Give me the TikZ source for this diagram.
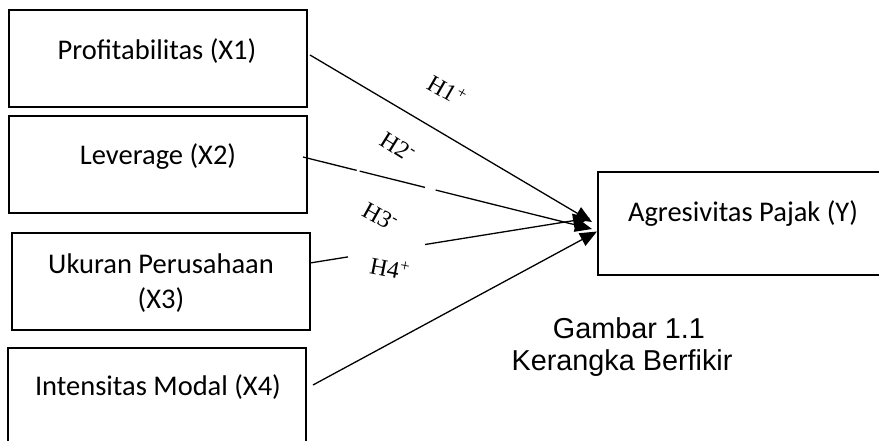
\documentclass[tikz,border=0pt]{standalone}
\usepackage{fontspec}
\setmainfont{Carlito}
\newfontfamily\capfont{Liberation Sans}
\newfontfamily\hfont{Liberation Serif}
\usetikzlibrary{arrows.meta}
\begin{document}
\begin{tikzpicture}[x=1pt,y=-1pt,
  box/.style={draw, line width=2.6pt, minimum width=298pt, minimum height=97pt, inner sep=0pt, outer sep=0pt},
  txt/.style={font=\fontsize{28.5}{34}\selectfont, anchor=base, inner sep=0pt},
  captxt/.style={font=\capfont\fontsize{28.8}{34}\selectfont, anchor=base, inner sep=0pt},
  hyp/.style={font=\hfont\fontsize{24}{28}\selectfont, inner sep=0pt},
  conn/.style={line width=1.3pt, -{Triangle[length=17pt,width=14pt]}}]
\useasboundingbox (0,0) rectangle (879,441);
\begin{scope}
\clip (0,0) rectangle (879,441);
% boxes
\node[box] (b1) at (158,58.5) {};
\node[box] (b2) at (158,164.5) {};
\node[box] (b3) at (161,281.5) {};
\node[box] (b4) at (157,396.5) {};
\node[box, minimum height=103pt] (y) at (747,223.5) {};
% texts
\node[txt] (t1) at (157,60) {Profitabilitas (X1)};
\node[txt] (t2) at (158,165) {Leverage (X2)};
\node[txt] (t3a) at (161,273) {Ukuran Perusahaan};
\node[txt] (t3b) at (161,308) {(X3)};
\node[txt] (t4) at (158,395) {Intensitas Modal (X4)};
\node[txt] (ty) at (743,222) {Agresivitas Pajak (Y)};
% connectors
\draw[conn] ([xshift=3pt,yshift=3.5pt]b1.east) -- ([xshift=-6pt,yshift=1.5pt]y.west);
\draw[conn, dash pattern=on 55.3pt off 3.1pt on 67.3pt off 11pt on 400pt off 0pt]
  ([xshift=-4pt,yshift=7.5pt]b2.east) -- ([xshift=-6pt,yshift=-5.5pt]y.west);
\draw[conn, dash pattern=on 38.5pt off 78pt on 400pt off 0pt]
  ([yshift=18.5pt]b3.east) -- ([xshift=-8pt,yshift=5.5pt]y.west);
\draw[conn] ([xshift=7pt,yshift=11.5pt]b4.east) -- ([xshift=-1pt,yshift=-8pt]y.west);
% hypothesis labels
\node[hyp, rotate=-30] (h1) at (447,90) {H1\textsuperscript{+}};
\node[hyp, rotate=-32] (h2) at (398,147) {H2\textsuperscript{-}};
\node[hyp, rotate=-29] (h3) at (380,217) {H3\textsuperscript{-}};
\node[hyp, rotate=-11] (h4) at (390,268) {H4\textsuperscript{+}};
% caption
\node[captxt] (c1) at (629,338) {Gambar 1.1};
\node[captxt] (c2) at (622,370) {Kerangka Berfikir};
\end{scope}
\end{tikzpicture}
\end{document}
